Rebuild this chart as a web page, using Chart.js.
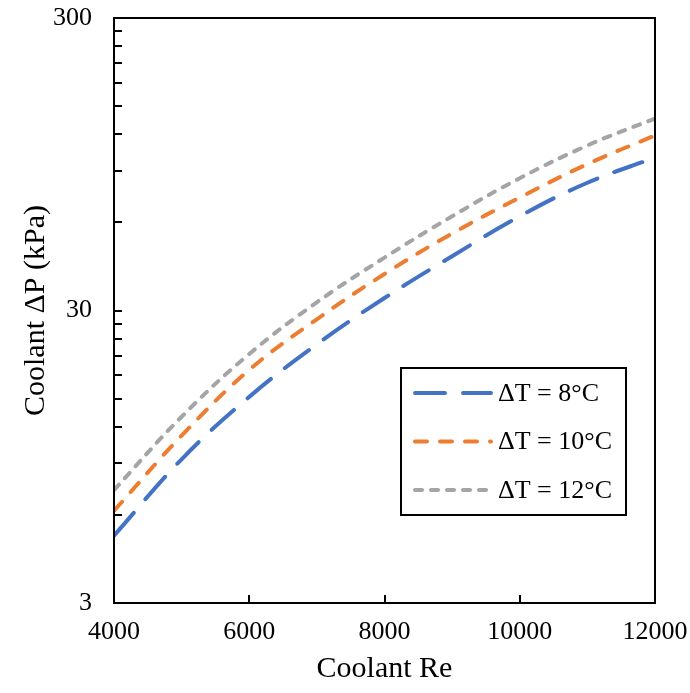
<!DOCTYPE html>
<html>
<head>
<meta charset="utf-8">
<script src="https://cdn.jsdelivr.net/npm/chart.js@4.4.1/dist/chart.umd.min.js"></script>
<style>
  html, body { margin: 0; padding: 0; background: #fff; }
</style>
</head>
<body>
<canvas id="dpChart" width="690" height="693"></canvas>
<script>
// coolant Reynolds number vs pressure drop
const reynolds = [4000, 5000, 6000, 7000, 8000, 9000, 10000, 11000, 12000];
const dpDT8  = [5.1, 9.3, 15.2, 23.0, 33.1, 46.0, 63, 82, 100];
const dpDT10 = [6.2, 11.2, 18.8, 28.0, 40, 55, 73, 95, 119];
const dpDT12 = [7.3, 13.0, 21.3, 32.0, 45.5, 63, 85, 110, 136];
const seriesLabels = ['ΔT = 8°C', 'ΔT = 10°C', 'ΔT = 12°C'];

const xTickValues = [4000, 6000, 8000, 10000, 12000];
const yTickValues = [3, 6, 9, 12, 15, 18, 21, 24, 27, 30, 60, 90, 120, 150, 180, 210, 240, 270, 300];
const yTickLabels = [3, 30, 300];

const serif = "'Liberation Serif', 'Times New Roman', serif";

const toPoints = (ys) => reynolds.map((x, i) => ({x: x, y: ys[i]}));

const lineStyle = (label, ys, color, dash) => ({
  label: label,
  data: toPoints(ys),
  borderColor: color,
  backgroundColor: color,
  borderWidth: 4,
  borderDash: dash,
  borderCapStyle: 'round',
  pointRadius: 0,
  tension: 0.4,
  fill: false
});

const datasets = [
  lineStyle(seriesLabels[0], dpDT8, '#4472C4', [30, 18]),
  lineStyle(seriesLabels[1], dpDT10, '#ED7D31', [12, 13]),
  lineStyle(seriesLabels[2], dpDT12, '#A5A5A5', [7, 9])
];

// plot box, inward ticks and the boxed legend
const frameAndLegend = {
  id: 'frameAndLegend',
  afterDatasetsDraw(chart) {
    const ctx = chart.ctx;
    const a = chart.chartArea;
    const xs = chart.scales.x;
    const ys = chart.scales.y;
    ctx.save();
    ctx.strokeStyle = '#000';
    ctx.lineWidth = 2;
    ctx.strokeRect(a.left, a.top, a.right - a.left, a.bottom - a.top);

    ys.ticks.forEach(t => {
      const py = Math.round(ys.getPixelForValue(t.value));
      ctx.beginPath();
      ctx.moveTo(a.left, py);
      ctx.lineTo(a.left + 8, py);
      ctx.stroke();
    });
    xs.ticks.forEach(t => {
      const px = Math.round(xs.getPixelForValue(t.value));
      ctx.beginPath();
      ctx.moveTo(px, a.bottom);
      ctx.lineTo(px, a.bottom - 8);
      ctx.stroke();
    });

    // legend box
    const bx = a.left + 287, by = a.top + 350, bw = 225, bh = 147;
    ctx.fillStyle = '#fff';
    ctx.fillRect(bx, by, bw, bh);
    ctx.strokeRect(bx, by, bw, bh);
    ctx.font = '26px ' + serif;
    ctx.textBaseline = 'middle';
    chart.data.datasets.forEach((ds, i) => {
      const ry = by + 25 + i * 48.5;
      ctx.save();
      ctx.strokeStyle = ds.borderColor;
      ctx.lineWidth = ds.borderWidth;
      ctx.lineCap = 'round';
      ctx.setLineDash(ds.borderDash);
      ctx.beginPath();
      ctx.moveTo(bx + 14, ry);
      ctx.lineTo(bx + 90, ry);
      ctx.stroke();
      ctx.restore();
      ctx.fillStyle = '#000';
      ctx.fillText(ds.label, bx + 97, ry + 1);
    });
    ctx.restore();
  }
};

new Chart(document.getElementById('dpChart'), {
  type: 'line',
  data: {datasets: datasets},
  options: {
    responsive: false,
    animation: false,
    devicePixelRatio: 1,
    layout: {padding: {top: 18, right: 35, bottom: 0, left: 0}},
    plugins: {
      legend: {display: false},
      tooltip: {enabled: false}
    },
    scales: {
      x: {
        type: 'linear',
        min: 4000,
        max: 12000,
        afterBuildTicks: (scale) => { scale.ticks = xTickValues.map(v => ({value: v})); },
        afterFit: (scale) => {
          scale.height = 90;
          scale.paddingLeft = 0;
          scale.paddingRight = 0;
        },
        grid: {display: false, drawTicks: false},
        border: {display: false},
        ticks: {
          color: '#000',
          padding: 14,
          maxRotation: 0,
          font: {family: serif, size: 26},
          callback: (v) => String(v)
        },
        title: {
          display: true,
          text: 'Coolant Re',
          color: '#000',
          font: {family: serif, size: 30},
          padding: {top: 0, bottom: 6}
        }
      },
      y: {
        type: 'logarithmic',
        min: 3,
        max: 300,
        afterBuildTicks: (scale) => { scale.ticks = yTickValues.map(v => ({value: v})); },
        afterFit: (scale) => {
          scale.width = 114;
          scale.paddingTop = 0;
          scale.paddingBottom = 0;
        },
        grid: {display: false, drawTicks: false},
        border: {display: false},
        ticks: {
          color: '#000',
          padding: 22,
          autoSkip: false,
          font: {family: serif, size: 26},
          callback: (v) => yTickLabels.includes(v) ? String(v) : ''
        },
        title: {
          display: true,
          text: 'Coolant ΔP (kPa)',
          color: '#000',
          font: {family: serif, size: 30},
          padding: {top: 18, bottom: 0}
        }
      }
    }
  },
  plugins: [frameAndLegend]
});
</script>
</body>
</html>
